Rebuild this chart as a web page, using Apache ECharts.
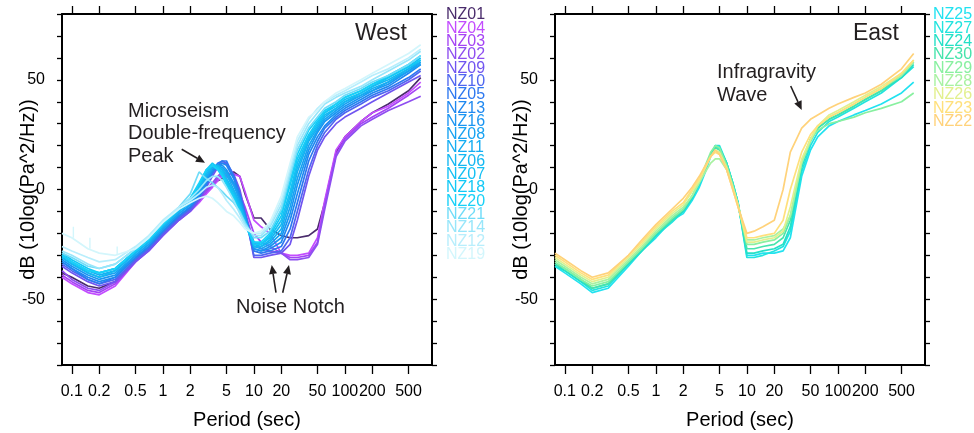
<!DOCTYPE html>
<html>
<head>
<meta charset="utf-8">
<script src="https://cdn.jsdelivr.net/npm/echarts@6.0.0/dist/echarts.min.js"></script>
<style>html,body{margin:0;padding:0;background:#fff;}#c{width:974px;height:433px;}</style>
</head>
<body>
<div id="c"></div>
<script>
// ---- data ----
const periods = [0.078, 0.1, 0.15, 0.2, 0.3, 0.5, 0.7, 1, 1.5, 2, 2.5, 3, 3.5, 4, 4.5, 5, 6, 7, 8, 10, 12, 15, 20, 25, 30, 40, 50, 60, 80, 100, 150, 200, 300, 500, 680];
const tickPeriods = [0.1, 0.2, 0.5, 1, 2, 5, 10, 20, 50, 100, 200, 500];
const periodMin = 0.078, periodMax = 905;
const dbMin = -80, dbMax = 80, dbStep = 10;
const dbLabels = [-50, 0, 50];

const westNames = ['NZ01','NZ04','NZ03','NZ02','NZ09','NZ10','NZ05','NZ13','NZ16','NZ08','NZ11','NZ06','NZ07','NZ18','NZ20','NZ21','NZ14','NZ12','NZ19'];
const NZ01 = [-38,-40,-44,-45,-42,-32,-27,-20,-13,-9,-5,-1,2,4,5,6,8,6,-2,-13,-13,-18,-21,-22,-22,-21,-18,-6,17,24,31,35,39,45,51];
const NZ04 = [-40,-43,-47,-48,-44,-33,-28,-21,-14,-10,-6,-2,1,4,6,7,7,6,-1,-14,-17,-20,-29,-30,-30,-29,-22,-5,18,24,31,35,38,44,49];
const NZ03 = [-39,-42,-46,-47,-43,-33,-27,-20,-13,-9,-5,-1,2,5,7,6,3,-2,-8,-20,-24,-26,-29,-31,-31,-30,-24,-7,16,23,30,33,37,43,47];
const NZ02 = [-37,-41,-45,-46,-42,-32,-27,-20,-13,-8,-4,0,3,6,8,7,2,-3,-10,-24,-27,-28,-29,-32,-32,-31,-25,-9,15,22,29,32,36,40,42.5];
const NZ09 = [-35,-38,-42,-44,-42,-33,-28,-21,-14,-10,-5,1,6,10,12,12,7,0,-10,-31,-31,-30,-29,-25,-14,6,18,24,30,33,37,40,44,49,52];
const NZ10 = [-34,-37,-41,-43,-41,-32,-27,-20,-13,-9,-4,2,7,11,13,12,6,-2,-12,-30,-30,-29,-28,-22,-10,9,20,26,32,35,39,42,45,50,54];
const NZ05 = [-33,-36,-41,-43,-40,-31,-26,-19,-12,-8,-3,2,8,12,13,13,6,-2,-12,-28,-29,-28,-26,-18,-6,13,22,28,33,36,40,43,46,51,55];
const NZ13 = [-33,-36,-40,-42,-40,-31,-26,-19,-12,-8,-3,3,8,11,12,11,5,-3,-11,-27,-28,-27,-24,-14,-2,16,24,29,34,37,41,44,47,53,57];
const NZ16 = [-32,-35,-39,-41,-39,-30,-25,-18,-11,-7,-2,4,9,11,11,9,3,-4,-12,-27,-28,-26,-22,-11,2,18,26,31,35,38,42,45,48,54,58];
const NZ08 = [-31,-34,-38,-40,-38,-30,-25,-18,-11,-7,-1,5,10,11,10,8,2,-5,-13,-26,-27,-25,-20,-8,5,20,27,32,36,39,43,45,49,54,57];
const NZ11 = [-30,-33,-37,-39,-37,-29,-24,-17,-10,-6,0,6,10,10,9,7,0,-6,-14,-25,-26,-24,-18,-5,8,22,28,33,37,40,43,46,49,55,58];
const NZ06 = [-31,-34,-38,-40,-37,-29,-24,-17,-10,-6,0,7,11,11,9,5,-1,-7,-14,-26,-26,-23,-16,-3,10,23,29,34,37,40,44,47,50,55,59];
const NZ07 = [-30,-33,-37,-38,-36,-28,-23,-16,-9,-5,1,8,11,10,8,4,-2,-8,-15,-24,-25,-22,-14,-1,12,24,30,35,38,41,44,47,51,56,60];
const NZ18 = [-29,-32,-36,-38,-36,-28,-23,-16,-9,-4,2,9,12,10,7,3,-3,-9,-16,-25,-25,-21,-12,2,14,25,31,35,39,42,45,48,51,56,59];
const NZ20 = [-30,-33,-37,-38,-36,-28,-23,-16,-9,-4,3,9,11,9,6,2,-4,-10,-16,-24,-24,-20,-10,4,16,27,32,36,39,42,45,48,52,57,61];
const NZ21 = [-29,-31,-35,-36,-34,-27,-22,-15,-8,-2,8,5,3,1,-1,-3,-6,-10,-15,-22,-22,-19,-9,6,18,28,33,37,40,43,46,49,52,57,61];
const NZ14 = [-28,-30,-34,-36,-34,-27,-22,-15,-8,-4,0,4,6,6,4,1,-5,-11,-16,-21,-21,-17,-7,8,20,30,35,39,42,44,47,50,54,59,63];
const NZ12 = [-26,-28,-31,-33,-32,-26,-21,-14,-8,-5,-2,1,2,1,-2,-5,-9,-13,-17,-20,-20,-16,-5,10,22,32,37,40,43,45,49,52,55,60,64];
const NZ19 = [-20,-22,-27,-29,-30,-27,-22,-15,-9,-6,-4,-3,-4,-6,-8,-10,-12,-15,-18,-20,-19,-15,-3,12,24,33,36,40,44,46,50,53,57,62,66];
// NZ19 short spikes: [period, base dB, top dB]
const nz19Spikes = [[0.104,-22,-17],[0.158,-27,-22],[0.315,-30,-26]];

const eastNames = ['NZ25','NZ27','NZ24','NZ30','NZ29','NZ28','NZ26','NZ23','NZ22'];
const NZ25 = [-35,-38,-43,-47,-45,-35,-28,-22,-14,-11,-5,1,8,15,20,19,12,3,-6,-30,-30,-29,-29,-28,-22,6,18,24,29,31,34,36,39,44,49];
const NZ27 = [-35,-37,-42,-46,-44,-34,-28,-21,-15,-10,-4,2,9,16,20,20,12,3,-6,-31,-31,-30,-28,-26,-19,8,20,26,31,33,37,40,44,51,56];
const NZ24 = [-34,-37,-42,-45,-43,-34,-28,-21,-14,-10,-4,3,10,16,19,19,12,3,-6,-29,-29,-28,-27,-25,-17,10,22,28,32,34,38,41,45,51,57];
const NZ30 = [-34,-36,-41,-45,-43,-33,-27,-20,-14,-9,-3,3,10,16,19,18,11,2,-7,-27,-27,-26,-25,-22,-14,12,23,28,32,34,38,41,45,52,58];
const NZ29 = [-33,-36,-41,-44,-42,-33,-27,-20,-13,-9,-3,4,11,17,20,19,11,2,-7,-25,-25,-24,-23,-20,-12,13,23,27,30,31,33,35,37,40,44];
const NZ28 = [-32,-35,-40,-43,-41,-32,-26,-19,-12,-8,-3,3,8,12,14,14,9,1,-7,-23,-23,-22,-21,-18,-12,12,22,29,33,35,39,42,46,52,58];
const NZ26 = [-31,-34,-39,-42,-40,-31,-25,-18,-11,-7,-1,4,10,15,18,17,10,1,-7,-24,-24,-23,-22,-19,-8,14,23,29,34,36,40,43,47,53,59];
const NZ23 = [-30,-33,-38,-41,-39,-30,-24,-17,-10,-6,0,5,10,15,17,16,9,0,-8,-22,-22,-21,-20,-14,0,17,25,29,33,35,39,42,46,53,59];
const NZ22 = [-29,-32,-37,-40,-38,-30,-23,-16,-9,-4,1,6,11,15,18,16,9,0,-8,-20,-19,-17,-14,0,17,28,32,34,37,39,42,44,48,55,62];

const westValues = [NZ01,NZ04,NZ03,NZ02,NZ09,NZ10,NZ05,NZ13,NZ16,NZ08,NZ11,NZ06,NZ07,NZ18,NZ20,NZ21,NZ14,NZ12,NZ19];
const eastValues = [NZ25,NZ27,NZ24,NZ30,NZ29,NZ28,NZ26,NZ23,NZ22];

// ---- styles ----
const westColors = ['#4a2c6c','#c34cff','#a544f4','#8e4ef0','#7155f0','#4f66f0','#2e78f0','#1f88f0','#1a95f2','#18a2f2','#16aef2','#14b8f2','#14c0f4','#14c9f6','#18d1f8','#70dcf8','#98e6fa','#b8eefc','#d3f6fc'];
const eastColors = ['#22e2f0','#22e4de','#24e0c6','#46e4ac','#88f0a0','#a8f2a2','#e2f08e','#ffe07c','#ffd27a'];
const FONT = '"Liberation Sans", Arial, Helvetica, sans-serif';
const INK = '#231f20';

const lg = v => Math.log10(v);
const tickLogs = tickPeriods.map(lg);

function xAxes(grid) {
  const common = {
    type: 'value', gridIndex: grid, min: lg(periodMin), max: lg(periodMax),
    splitLine: { show: false },
    axisLine: { show: true, onZero: false, lineStyle: { color: '#000', width: 2 } },
  };
  return [
    Object.assign({}, common, {
      position: 'bottom',
      axisTick: { show: true, customValues: tickLogs, length: 9, lineStyle: { color: '#000', width: 1.3 } },
      axisLabel: { show: true, customValues: tickLogs, hideOverlap: false, margin: 19, fontSize: 16, color: '#000', fontFamily: FONT,
        formatter: v => String(+Math.pow(10, v).toPrecision(3)) },
      name: 'Period (sec)', nameLocation: 'middle', nameGap: 45, nameMoveOverlap: false,
      nameTextStyle: { fontSize: 20, color: '#000', fontFamily: FONT }
    }),
    Object.assign({}, common, {
      position: 'top',
      axisTick: { show: true, customValues: tickLogs, length: 8, lineStyle: { color: '#000', width: 1.3 } },
      axisLabel: { show: false }
    })
  ];
}
function yAxes(grid) {
  const common = {
    type: 'value', gridIndex: grid, min: dbMin, max: dbMax, interval: dbStep,
    splitLine: { show: false },
    axisLine: { show: true, onZero: false, lineStyle: { color: '#000', width: 2 } },
    axisTick: { show: true, length: 5, lineStyle: { color: '#000', width: 1.3 } }
  };
  return [
    Object.assign({}, common, {
      position: 'left',
      axisLabel: { show: true, margin: 17, fontSize: 16, color: '#000', fontFamily: FONT, showMinLabel: true, showMaxLabel: true,
        formatter: v => dbLabels.indexOf(v) >= 0 ? String(v) : '' },
      name: 'dB (10log(Pa^2/Hz))', nameLocation: 'middle', nameGap: 24, nameRotate: 90, nameMoveOverlap: false,
      nameTextStyle: { fontSize: 20, color: '#000', fontFamily: FONT }
    }),
    Object.assign({}, common, { position: 'right', axisLabel: { show: false } })
  ];
}

function lineSeries(name, vals, color, axisBase) {
  return {
    type: 'line', name, xAxisIndex: axisBase, yAxisIndex: axisBase,
    data: periods.map((p, i) => [lg(p), vals[i]]),
    symbol: 'none', showSymbol: false, smooth: false, silent: true, animation: false,
    lineStyle: { color, width: 1.7 }, itemStyle: { color }, emphasis: { disabled: true }
  };
}

const series = [];
westNames.forEach((n, i) => series.push(lineSeries(n, westValues[i], westColors[i], 0)));
eastNames.forEach((n, i) => series.push(lineSeries(n, eastValues[i], eastColors[i], 2)));
// spikes on NZ19
const spikeData = [];
nz19Spikes.forEach(s => { spikeData.push([lg(s[0]), s[1]], [lg(s[0]), s[2]], [null, null]); });
series.push({ type: 'line', name: 'NZ19', xAxisIndex: 0, yAxisIndex: 0, data: spikeData, connectNulls: false,
  symbol: 'none', silent: true, animation: false, lineStyle: { color: westColors[18], width: 1.4 } });

function legend(names, colors, left) {
  return {
    orient: 'vertical', left, top: 7, padding: 0, itemGap: -2.7, itemWidth: 0, itemHeight: 13.2,
    icon: 'none', selectedMode: false,
    textStyle: { fontSize: 16, fontFamily: FONT, lineHeight: 13.2, padding: 0 },
    data: names.map((n, i) => ({ name: n, icon: 'none', textStyle: { color: colors[i] } }))
  };
}

function arrow(x1, y1, x2, y2) {
  const a = Math.atan2(y2 - y1, x2 - x1), L = 9, W = 4;
  const bx = x2 - L * Math.cos(a), by = y2 - L * Math.sin(a);
  const px = -Math.sin(a) * W, py = Math.cos(a) * W;
  return [
    { type: 'line', shape: { x1, y1, x2: bx, y2: by }, style: { stroke: INK, lineWidth: 1.6 }, silent: true },
    { type: 'polygon', shape: { points: [[x2, y2], [bx + px, by + py], [bx - px, by - py]] }, style: { fill: INK }, silent: true }
  ];
}
function txt(text, x, y, size, align, vAlign) {
  return { type: 'text', x, y, silent: true,
    style: { text, fill: INK, font: size + 'px ' + FONT, lineHeight: 22.4, align: align || 'left', verticalAlign: vAlign || 'top' } };
}

const graphics = [].concat(
  [txt('West', 407, 34, 23, 'right', 'middle'), txt('East', 899, 34, 23, 'right', 'middle'),
   txt('Microseism\nDouble-frequency\nPeak', 128, 100, 20), txt('Noise Notch', 236, 296, 20),
   txt('Infragravity\nWave', 717, 61.5, 20)],
  arrow(181.7, 149.3, 205, 162.7),
  arrow(276, 292.7, 271.7, 265),
  arrow(282.7, 292.7, 289, 265),
  arrow(790.7, 86, 801.7, 110)
);

const chart = echarts.init(document.getElementById('c'), null, { renderer: 'canvas' });
chart.setOption({
  animation: false,
  backgroundColor: '#fff',
  grid: [
    { left: 62, top: 14, width: 370, height: 351, outerBoundsMode: 'none', containLabel: false },
    { left: 555, top: 14, width: 370, height: 351, outerBoundsMode: 'none', containLabel: false }
  ],
  xAxis: xAxes(0).concat(xAxes(1)),
  yAxis: yAxes(0).concat(yAxes(1)),
  legend: [legend(westNames, westColors, 441), legend(eastNames, eastColors, 928)],
  series,
  graphic: graphics
});
</script>
</body>
</html>
